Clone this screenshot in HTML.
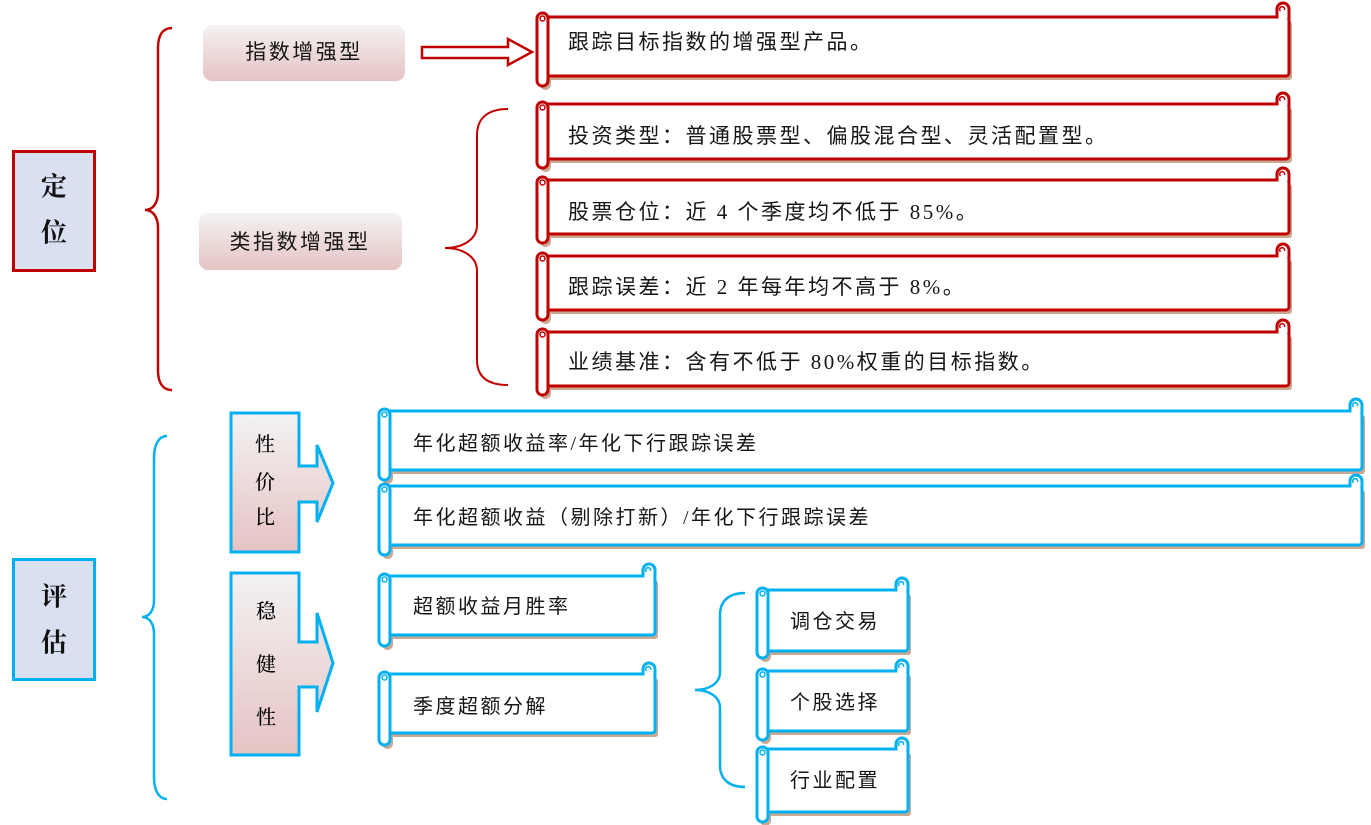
<!DOCTYPE html>
<html><head><meta charset="utf-8">
<style>
html,body{margin:0;padding:0;background:#fff;}
svg{display:block;}
.t{font-family:"Liberation Serif","Noto Sans CJK SC",sans-serif;font-size:21px;letter-spacing:2.5px;fill:#161616;dominant-baseline:central;}
.tb{font-family:"Liberation Serif","Noto Sans CJK SC",sans-serif;font-size:20px;letter-spacing:2.5px;fill:#161616;dominant-baseline:central;}
.k{font-family:"Liberation Serif","Noto Serif CJK SC",serif;font-size:20px;font-weight:500;fill:#000;dominant-baseline:central;text-anchor:middle;}
.h{font-family:"Liberation Serif","Noto Serif CJK SC",serif;font-size:26px;font-weight:bold;fill:#111;dominant-baseline:central;text-anchor:middle;}
</style></head>
<body>
<svg width="1371" height="825" viewBox="0 0 1371 825" xmlns="http://www.w3.org/2000/svg">
<defs>
<linearGradient id="g" x1="0" y1="0" x2="0" y2="1">
<stop offset="0" stop-color="#f3f2f2"/><stop offset="1" stop-color="#e6c3c3"/>
</linearGradient>
</defs>

<!-- Left boxes -->
<rect x="13.5" y="151.5" width="81" height="119" fill="#d9e0f1" stroke="#c00000" stroke-width="3"/>
<text class="h" x="54" y="187">定</text>
<text class="h" x="54" y="233">位</text>
<rect x="13.5" y="559.5" width="81" height="120" fill="#d9e0f1" stroke="#00b0f0" stroke-width="3"/>
<text class="h" x="54" y="597">评</text>
<text class="h" x="54" y="643">估</text>

<!-- Braces -->
<path d="M172,28 C163,28 158,35 158,48 L158,192 C158,203 153,210 145,210 C153,210 158,217 158,228 L158,370 C158,383 163,390 172,390" fill="none" stroke="#c00000" stroke-width="2.5"/>
<path d="M508,109 C488,109 477,118 477,135 L477,225 C477,240 462,248 445,248 C462,248 477,256 477,271 L477,360 C477,377 488,385 508,385" fill="none" stroke="#c00000" stroke-width="2"/>
<path d="M167,436 C159,436 154,444 154,458 L154,600 C154,611 149,617 142,617 C149,617 154,623 154,634 L154,777 C154,791 159,799 167,799" fill="none" stroke="#00b0f0" stroke-width="2.5"/>
<path d="M745,593 C730,593 720,600 720,615 L720,672 C720,684 708,690 695,690 C708,690 720,696 720,708 L720,765 C720,780 730,787 745,787" fill="none" stroke="#00b0f0" stroke-width="2.5"/>

<!-- Label boxes -->
<rect x="203" y="25" width="202" height="56" rx="9" fill="url(#g)"/>
<text class="t" x="304" y="52" text-anchor="middle">指数增强型</text>
<rect x="199" y="213" width="203" height="57" rx="9" fill="url(#g)"/>
<text class="t" x="300" y="242" text-anchor="middle">类指数增强型</text>

<!-- Hollow arrow -->
<polygon points="422,47 508,47 508,39 532,52 508,65 508,58 422,58" fill="#fff" stroke="#c00000" stroke-width="2.5" stroke-linejoin="miter"/>

<!-- Callouts -->
<polygon points="231,413 299,413 299,466 317,466 317,445 333,483 317,522 317,502 299,502 299,552 231,552" fill="url(#g)" stroke="#00b0f0" stroke-width="3"/>
<text class="k" x="265" y="445">性</text>
<text class="k" x="265" y="483">价</text>
<text class="k" x="265" y="518">比</text>
<polygon points="231,573 299,573 299,642 317,642 317,613 333,663 317,712 317,687 299,687 299,755 231,755" fill="url(#g)" stroke="#00b0f0" stroke-width="3"/>
<text class="k" x="266" y="612">稳</text>
<text class="k" x="266" y="665">健</text>
<text class="k" x="266" y="718">性</text>

<!-- Red scrolls -->
<g stroke-linejoin="round">
<!-- R1 -->
<rect x="545" y="21" width="747" height="59" rx="3" fill="#caa892"/>
<rect x="540" y="17" width="11" height="73" rx="5.5" fill="#caa892"/>
<rect x="542" y="17" width="747" height="59" rx="3" fill="#fff" stroke="#c00000" stroke-width="3"/>
<path d="M1277,18.5 L1277,9 A6,6 0 0 1 1289,9 L1289,18.5" fill="#fff" stroke="#c00000" stroke-width="3"/>
<path d="M1280.5,11 a2.5,2.5 0 1 1 4,-1" fill="none" stroke="#c00000" stroke-width="1.5"/>
<rect x="537" y="13" width="11" height="73" rx="5.5" fill="#fff" stroke="#c00000" stroke-width="3"/>
<circle cx="542.5" cy="18.5" r="2.5" fill="none" stroke="#c00000" stroke-width="1.5"/>
<!-- R2 -->
<rect x="545" y="108" width="747" height="55" rx="3" fill="#caa892"/>
<rect x="540" y="106" width="11" height="66" rx="5.5" fill="#caa892"/>
<rect x="542" y="104" width="747" height="55" rx="3" fill="#fff" stroke="#c00000" stroke-width="3"/>
<path d="M1277,105.5 L1277,99 A6,6 0 0 1 1289,99 L1289,105.5" fill="#fff" stroke="#c00000" stroke-width="3"/>
<path d="M1280.5,101 a2.5,2.5 0 1 1 4,-1" fill="none" stroke="#c00000" stroke-width="1.5"/>
<rect x="537" y="102" width="11" height="66" rx="5.5" fill="#fff" stroke="#c00000" stroke-width="3"/>
<circle cx="542.5" cy="107.5" r="2.5" fill="none" stroke="#c00000" stroke-width="1.5"/>
<!-- R3 -->
<rect x="545" y="184" width="747" height="54" rx="3" fill="#caa892"/>
<rect x="540" y="181" width="11" height="66" rx="5.5" fill="#caa892"/>
<rect x="542" y="180" width="747" height="54" rx="3" fill="#fff" stroke="#c00000" stroke-width="3"/>
<path d="M1277,181.5 L1277,174 A6,6 0 0 1 1289,174 L1289,181.5" fill="#fff" stroke="#c00000" stroke-width="3"/>
<path d="M1280.5,176 a2.5,2.5 0 1 1 4,-1" fill="none" stroke="#c00000" stroke-width="1.5"/>
<rect x="537" y="177" width="11" height="66" rx="5.5" fill="#fff" stroke="#c00000" stroke-width="3"/>
<circle cx="542.5" cy="182.5" r="2.5" fill="none" stroke="#c00000" stroke-width="1.5"/>
<!-- R4 -->
<rect x="545" y="260" width="747" height="54" rx="3" fill="#caa892"/>
<rect x="540" y="257" width="11" height="67" rx="5.5" fill="#caa892"/>
<rect x="542" y="256" width="747" height="54" rx="3" fill="#fff" stroke="#c00000" stroke-width="3"/>
<path d="M1277,257.5 L1277,250 A6,6 0 0 1 1289,250 L1289,257.5" fill="#fff" stroke="#c00000" stroke-width="3"/>
<path d="M1280.5,252 a2.5,2.5 0 1 1 4,-1" fill="none" stroke="#c00000" stroke-width="1.5"/>
<rect x="537" y="253" width="11" height="67" rx="5.5" fill="#fff" stroke="#c00000" stroke-width="3"/>
<circle cx="542.5" cy="258.5" r="2.5" fill="none" stroke="#c00000" stroke-width="1.5"/>
<!-- R5 -->
<rect x="545" y="336" width="747" height="54" rx="3" fill="#caa892"/>
<rect x="540" y="333" width="11" height="66" rx="5.5" fill="#caa892"/>
<rect x="542" y="332" width="747" height="54" rx="3" fill="#fff" stroke="#c00000" stroke-width="3"/>
<path d="M1277,333.5 L1277,326 A6,6 0 0 1 1289,326 L1289,333.5" fill="#fff" stroke="#c00000" stroke-width="3"/>
<path d="M1280.5,328 a2.5,2.5 0 1 1 4,-1" fill="none" stroke="#c00000" stroke-width="1.5"/>
<rect x="537" y="329" width="11" height="66" rx="5.5" fill="#fff" stroke="#c00000" stroke-width="3"/>
<circle cx="542.5" cy="334.5" r="2.5" fill="none" stroke="#c00000" stroke-width="1.5"/>
</g>

<text class="t" x="568" y="42">跟踪目标指数的增强型产品。</text>
<text class="t" x="568" y="136">投资类型：普通股票型、偏股混合型、灵活配置型。</text>
<text class="t" x="568" y="212">股票仓位：近 4 个季度均不低于 85%。</text>
<text class="t" x="568" y="287">跟踪误差：近 2 年每年均不高于 8%。</text>
<text class="t" x="568" y="362">业绩基准：含有不低于 80%权重的目标指数。</text>

<!-- Blue scrolls -->
<g stroke-linejoin="round">
<!-- B1 -->
<rect x="387" y="415" width="978" height="59" rx="3" fill="#caa892"/>
<rect x="382" y="413" width="11" height="71" rx="5.5" fill="#caa892"/>
<rect x="384" y="411" width="978" height="59" rx="3" fill="#fff" stroke="#00b0f0" stroke-width="3"/>
<path d="M1350,412.5 L1350,405 A6,6 0 0 1 1362,405 L1362,412.5" fill="#fff" stroke="#00b0f0" stroke-width="3"/>
<path d="M1353.5,407 a2.5,2.5 0 1 1 4,-1" fill="none" stroke="#00b0f0" stroke-width="1.5"/>
<rect x="379" y="409" width="11" height="71" rx="5.5" fill="#fff" stroke="#00b0f0" stroke-width="3"/>
<circle cx="384.5" cy="414.5" r="2.5" fill="none" stroke="#00b0f0" stroke-width="1.5"/>
<!-- B2 -->
<rect x="387" y="490" width="978" height="59" rx="3" fill="#caa892"/>
<rect x="382" y="488" width="11" height="71" rx="5.5" fill="#caa892"/>
<rect x="384" y="486" width="978" height="59" rx="3" fill="#fff" stroke="#00b0f0" stroke-width="3"/>
<path d="M1350,487.5 L1350,481 A6,6 0 0 1 1362,481 L1362,487.5" fill="#fff" stroke="#00b0f0" stroke-width="3"/>
<path d="M1353.5,483 a2.5,2.5 0 1 1 4,-1" fill="none" stroke="#00b0f0" stroke-width="1.5"/>
<rect x="379" y="484" width="11" height="71" rx="5.5" fill="#fff" stroke="#00b0f0" stroke-width="3"/>
<circle cx="384.5" cy="489.5" r="2.5" fill="none" stroke="#00b0f0" stroke-width="1.5"/>
<!-- B3 -->
<rect x="387" y="580" width="271" height="59" rx="3" fill="#caa892"/>
<rect x="382" y="578" width="11" height="72" rx="5.5" fill="#caa892"/>
<rect x="384" y="576" width="271" height="59" rx="3" fill="#fff" stroke="#00b0f0" stroke-width="3"/>
<path d="M643,577.5 L643,570 A6,6 0 0 1 655,570 L655,577.5" fill="#fff" stroke="#00b0f0" stroke-width="3"/>
<path d="M646.5,572 a2.5,2.5 0 1 1 4,-1" fill="none" stroke="#00b0f0" stroke-width="1.5"/>
<rect x="379" y="574" width="11" height="72" rx="5.5" fill="#fff" stroke="#00b0f0" stroke-width="3"/>
<circle cx="384.5" cy="579.5" r="2.5" fill="none" stroke="#00b0f0" stroke-width="1.5"/>
<!-- B4 -->
<rect x="387" y="678" width="271" height="59" rx="3" fill="#caa892"/>
<rect x="382" y="676" width="11" height="73" rx="5.5" fill="#caa892"/>
<rect x="384" y="674" width="271" height="59" rx="3" fill="#fff" stroke="#00b0f0" stroke-width="3"/>
<path d="M643,675.5 L643,669 A6,6 0 0 1 655,669 L655,675.5" fill="#fff" stroke="#00b0f0" stroke-width="3"/>
<path d="M646.5,671 a2.5,2.5 0 1 1 4,-1" fill="none" stroke="#00b0f0" stroke-width="1.5"/>
<rect x="379" y="672" width="11" height="73" rx="5.5" fill="#fff" stroke="#00b0f0" stroke-width="3"/>
<circle cx="384.5" cy="677.5" r="2.5" fill="none" stroke="#00b0f0" stroke-width="1.5"/>
<!-- B5 -->
<rect x="765" y="594" width="146" height="61" rx="3" fill="#caa892"/>
<rect x="760" y="592" width="11" height="70" rx="5.5" fill="#caa892"/>
<rect x="762" y="590" width="146" height="61" rx="3" fill="#fff" stroke="#00b0f0" stroke-width="3"/>
<path d="M896,591.5 L896,584 A6,6 0 0 1 908,584 L908,591.5" fill="#fff" stroke="#00b0f0" stroke-width="3"/>
<path d="M899.5,586 a2.5,2.5 0 1 1 4,-1" fill="none" stroke="#00b0f0" stroke-width="1.5"/>
<rect x="757" y="588" width="11" height="70" rx="5.5" fill="#fff" stroke="#00b0f0" stroke-width="3"/>
<circle cx="762.5" cy="593.5" r="2.5" fill="none" stroke="#00b0f0" stroke-width="1.5"/>
<!-- B6 -->
<rect x="765" y="675" width="146" height="60" rx="3" fill="#caa892"/>
<rect x="760" y="673" width="11" height="71" rx="5.5" fill="#caa892"/>
<rect x="762" y="671" width="146" height="60" rx="3" fill="#fff" stroke="#00b0f0" stroke-width="3"/>
<path d="M896,672.5 L896,666 A6,6 0 0 1 908,666 L908,672.5" fill="#fff" stroke="#00b0f0" stroke-width="3"/>
<path d="M899.5,668 a2.5,2.5 0 1 1 4,-1" fill="none" stroke="#00b0f0" stroke-width="1.5"/>
<rect x="757" y="669" width="11" height="71" rx="5.5" fill="#fff" stroke="#00b0f0" stroke-width="3"/>
<circle cx="762.5" cy="674.5" r="2.5" fill="none" stroke="#00b0f0" stroke-width="1.5"/>
<!-- B7 -->
<rect x="765" y="753" width="146" height="63" rx="3" fill="#caa892"/>
<rect x="760" y="751" width="11" height="75" rx="5.5" fill="#caa892"/>
<rect x="762" y="749" width="146" height="63" rx="3" fill="#fff" stroke="#00b0f0" stroke-width="3"/>
<path d="M896,750.5 L896,744 A6,6 0 0 1 908,744 L908,750.5" fill="#fff" stroke="#00b0f0" stroke-width="3"/>
<path d="M899.5,746 a2.5,2.5 0 1 1 4,-1" fill="none" stroke="#00b0f0" stroke-width="1.5"/>
<rect x="757" y="747" width="11" height="75" rx="5.5" fill="#fff" stroke="#00b0f0" stroke-width="3"/>
<circle cx="762.5" cy="752.5" r="2.5" fill="none" stroke="#00b0f0" stroke-width="1.5"/>
</g>

<text class="tb" x="413" y="444">年化超额收益率/年化下行跟踪误差</text>
<text class="tb" x="413" y="518">年化超额收益（剔除打新）/年化下行跟踪误差</text>
<text class="tb" x="413" y="607">超额收益月胜率</text>
<text class="tb" x="413" y="707">季度超额分解</text>
<text class="tb" x="835" y="622" text-anchor="middle">调仓交易</text>
<text class="tb" x="835" y="703" text-anchor="middle">个股选择</text>
<text class="tb" x="835" y="781" text-anchor="middle">行业配置</text>
</svg>
</body></html>
